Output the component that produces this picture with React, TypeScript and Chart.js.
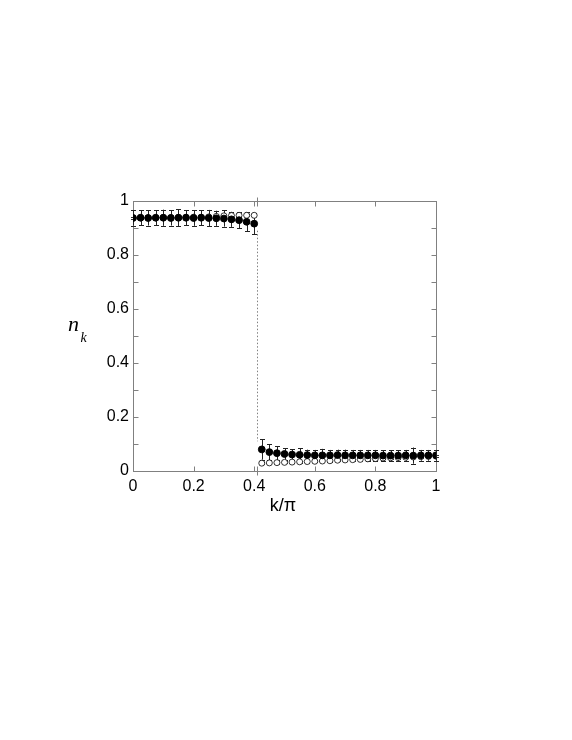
import React, { useEffect, useRef } from "react";
import { Chart, registerables } from "chart.js";

Chart.register(...registerables);

// k/π positions of the data points
const kValues = [
  0, 0.025, 0.05, 0.075, 0.1, 0.125, 0.15, 0.175, 0.2, 0.225, 0.25, 0.275, 0.3, 0.325, 0.35, 0.375, 0.4,
  0.425, 0.45, 0.475, 0.5, 0.525, 0.55, 0.575, 0.6, 0.625, 0.65, 0.675, 0.7, 0.725, 0.75, 0.775, 0.8,
  0.825, 0.85, 0.875, 0.9, 0.925, 0.95, 0.975, 1.0,
];

// filled circles
const filledN = [
  0.937, 0.938, 0.937, 0.938, 0.938, 0.937, 0.938, 0.938, 0.937, 0.938, 0.937, 0.936, 0.935, 0.932, 0.929, 0.923, 0.916,
  0.080, 0.070, 0.066, 0.063, 0.061, 0.060, 0.059, 0.058, 0.058, 0.058, 0.059, 0.058, 0.058, 0.058, 0.058, 0.058,
  0.057, 0.057, 0.057, 0.058, 0.057, 0.058, 0.058, 0.058,
];
const filledErr = [
  0.028, 0.027, 0.028, 0.028, 0.030, 0.028, 0.032, 0.028, 0.029, 0.028, 0.030, 0.028, 0.030, 0.028, 0.030, 0.035, 0.040,
  0.038, 0.030, 0.025, 0.022, 0.020, 0.024, 0.020, 0.020, 0.024, 0.020, 0.020, 0.021, 0.020, 0.020, 0.020, 0.020,
  0.020, 0.020, 0.020, 0.020, 0.030, 0.020, 0.020, 0.020,
];

// open circles
const openN = [
  0.938, 0.938, 0.938, 0.938, 0.939, 0.939, 0.939, 0.940, 0.940, 0.940, 0.941, 0.943, 0.945, 0.946, 0.947, 0.947, 0.947,
  0.029, 0.030, 0.031, 0.032, 0.033, 0.034, 0.035, 0.036, 0.037, 0.038, 0.040, 0.041, 0.042, 0.043, 0.045, 0.046,
  0.048, 0.049, 0.050, 0.051, 0.052, 0.053, 0.054, 0.055,
];
const openErr = [
  0.004, 0.004, 0.004, 0.004, 0.004, 0.004, 0.004, 0.004, 0.004, 0.004, 0.004, 0.004, 0.004, 0.004, 0.004, 0.004, 0.004,
  0.004, 0.004, 0.004, 0.004, 0.004, 0.004, 0.004, 0.004, 0.004, 0.004, 0.004, 0.004, 0.004, 0.004, 0.004, 0.004,
  0.004, 0.004, 0.004, 0.004, 0.004, 0.004, 0.004, 0.004,
];

const xMajorTicks = [0, 0.2, 0.4, 0.6, 0.8, 1];
const yLabelTicks = [0, 0.2, 0.4, 0.6, 0.8, 1];
const yMinorTicks = [0, 0.1, 0.2, 0.3, 0.4, 0.5, 0.6, 0.7, 0.8, 0.9, 1];
const kF = 0.41;
const stepLine = [0.89, 0.11];

const frameColor = "#808080";

const overlay = {
  id: "overlay",
  beforeDatasetsDraw(chart: any) {
    const { ctx, chartArea: a, scales } = chart;
    const xs = scales.x;
    const ys = scales.y;
    ctx.save();
    ctx.strokeStyle = frameColor;
    ctx.lineWidth = 1;
    const L = Math.round(a.left) + 0.5;
    const R = Math.round(a.right) + 0.5;
    const T = Math.round(a.top) + 0.5;
    const B = Math.round(a.bottom) + 0.5;
    ctx.strokeRect(L, T, R - L, B - T);
    const tl = 5;
    ctx.beginPath();
    for (const v of xMajorTicks) {
      const px = Math.round(xs.getPixelForValue(v)) + 0.5;
      ctx.moveTo(px, B);
      ctx.lineTo(px, B - tl);
      ctx.moveTo(px, T);
      ctx.lineTo(px, T + tl);
    }
    for (const v of yMinorTicks) {
      const py = Math.round(ys.getPixelForValue(v)) + 0.5;
      ctx.moveTo(L, py);
      ctx.lineTo(L + tl, py);
      ctx.moveTo(R, py);
      ctx.lineTo(R - tl, py);
    }
    // k_F markers
    const fx = Math.round(xs.getPixelForValue(kF)) + 0.5;
    ctx.moveTo(fx, T - 4);
    ctx.lineTo(fx, T + 5);
    ctx.moveTo(fx, B - 5);
    ctx.lineTo(fx, B + 4);
    ctx.stroke();

    // dotted step line
    ctx.setLineDash([1.5, 2]);
    ctx.beginPath();
    ctx.moveTo(fx, ys.getPixelForValue(stepLine[0]));
    ctx.lineTo(fx, ys.getPixelForValue(stepLine[1]));
    ctx.stroke();
    ctx.setLineDash([]);

    // error bars
    const drawErr = (vals: number[], errs: number[], color: string) => {
      ctx.strokeStyle = color;
      ctx.beginPath();
      for (let i = 0; i < kValues.length; i++) {
        const px = Math.round(xs.getPixelForValue(kValues[i])) + 0.5;
        const y1 = ys.getPixelForValue(vals[i] + errs[i]);
        const y2 = ys.getPixelForValue(vals[i] - errs[i]);
        ctx.moveTo(px, y1);
        ctx.lineTo(px, y2);
        ctx.moveTo(px - 2.5, Math.round(y1) + 0.5);
        ctx.lineTo(px + 2.5, Math.round(y1) + 0.5);
        ctx.moveTo(px - 2.5, Math.round(y2) + 0.5);
        ctx.lineTo(px + 2.5, Math.round(y2) + 0.5);
      }
      ctx.stroke();
    };
    drawErr(openN, openErr, "#333");
    drawErr(filledN, filledErr, "#222");
    ctx.restore();
  },
  afterDraw(chart: any) {
    const { ctx } = chart;
    ctx.save();
    ctx.fillStyle = "#000";
    ctx.textBaseline = "alphabetic";
    ctx.textAlign = "left";
    ctx.font = "italic 22px 'Liberation Serif'";
    ctx.fillText("n", 68, 331);
    ctx.font = "italic 14px 'Liberation Serif'";
    ctx.fillText("k", 80.5, 342);
    ctx.textAlign = "center";
    ctx.font = "18px 'Liberation Sans'";
    ctx.fillText("k/\u03c0", 283, 511);
    ctx.restore();
  },
};

export default function App() {
  const ref = useRef<HTMLCanvasElement | null>(null);
  useEffect(() => {
    document.body.style.margin = "0";
    const canvas = ref.current!;
    const fmt = (v: any) => {
      const n = Number(v);
      return Number(n.toFixed(1)).toString();
    };
    const chart = new Chart(canvas, {
      type: "scatter",
      data: {
        datasets: [
          {
            label: "filled",
            data: kValues.map((k, i) => ({ x: k, y: filledN[i] })),
            pointRadius: 3.4,
            pointBackgroundColor: "#000",
            pointBorderColor: "#000",
            pointBorderWidth: 1,
            order: 0,
          },
          {
            label: "open",
            data: kValues.map((k, i) => ({ x: k, y: openN[i] })),
            pointRadius: 3,
            pointBackgroundColor: "#fff",
            pointBorderColor: "#000",
            pointBorderWidth: 0.8,
            order: 1,
          },
        ],
      },
      options: {
        responsive: false,
        animation: false,
        events: [],
        layout: { padding: { left: 0, right: 136, top: 201, bottom: 240 } },
        plugins: { legend: { display: false }, tooltip: { enabled: false } },
        scales: {
          x: {
            type: "linear",
            min: 0,
            max: 1,
            grid: { display: false, drawTicks: false },
            border: { display: false },
            afterFit: (s: any) => {
              s.height = 29;
            },
            afterBuildTicks: (s: any) => {
              s.ticks = xMajorTicks.map((v) => ({ value: v }));
            },
            ticks: {
              padding: 6,
              color: "#000",
              font: { family: "'Liberation Sans'", size: 16 },
              callback: fmt,
              maxRotation: 0,
            },
          },
          y: {
            type: "linear",
            min: 0,
            max: 1,
            grid: { display: false, drawTicks: false },
            border: { display: false },
            afterFit: (s: any) => {
              s.width = 133;
            },
            afterBuildTicks: (s: any) => {
              s.ticks = yLabelTicks.map((v) => ({ value: v }));
            },
            ticks: {
              padding: 4,
              color: "#000",
              font: { family: "'Liberation Sans'", size: 16 },
              callback: fmt,
            },
          },
        },
      },
      plugins: [overlay],
    });
    return () => chart.destroy();
  }, []);
  return (
    <canvas
      ref={ref}
      width={572}
      height={740}
      style={{ display: "block", width: 572, height: 740 }}
    />
  );
}
